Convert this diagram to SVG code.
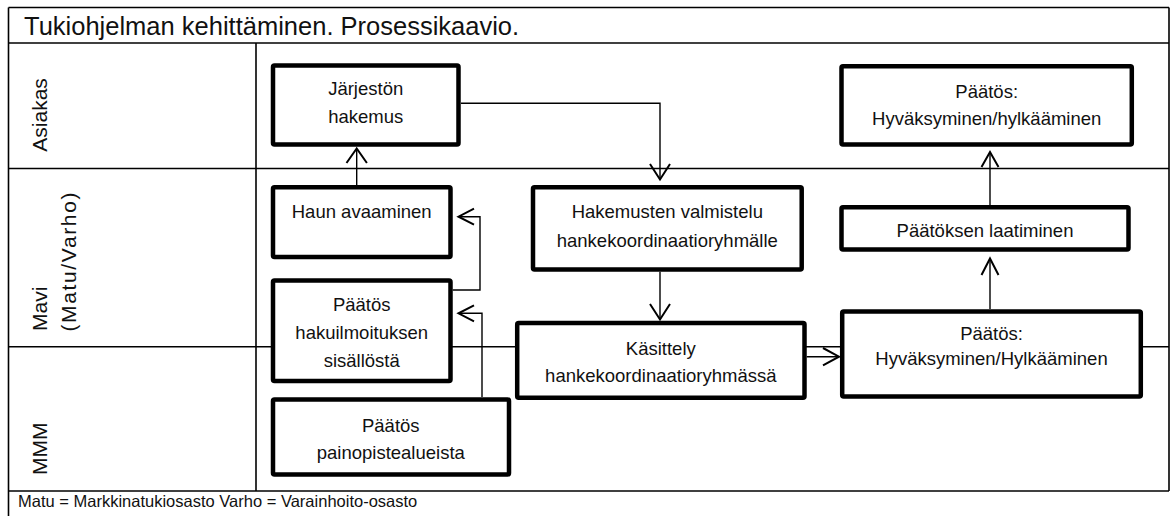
<svg xmlns="http://www.w3.org/2000/svg" width="1172" height="516" viewBox="0 0 1172 516">
  <style>
    .frame { fill: none; stroke: #000; stroke-width: 1.6; }
    .box rect { fill: #fff; stroke: #000; stroke-width: 4.5; }
    .box text { font-family: "Liberation Sans", Arial, sans-serif; font-size: 18.5px; fill: #111; text-anchor: middle; }
    .lane { font-family: "Liberation Sans", Arial, sans-serif; font-size: 21px; fill: #111; }
    .title { font-family: "Liberation Sans", Arial, sans-serif; font-size: 25.5px; fill: #111; }
    .note { font-family: "Liberation Sans", Arial, sans-serif; font-size: 16.5px; fill: #111; }
    .conn { fill: none; stroke: #000; stroke-width: 1.4; }
    .head { fill: none; stroke: #000; stroke-width: 2; stroke-linejoin: miter; }
  </style>

  <rect width="1172" height="516" fill="#fff"/>

  <!-- swimlane table -->
  <g id="lanes">
    <line class="frame" x1="8.5" y1="7.5" x2="1169" y2="7.5"/>
    <line class="frame" x1="8.5" y1="7.5" x2="8.5" y2="516"/>
    <line class="frame" x1="1169" y1="7.5" x2="1169" y2="491"/>
    <line class="frame" x1="8.5" y1="43" x2="1169" y2="43"/>
    <line class="frame" x1="8.5" y1="168.5" x2="1169" y2="168.5"/>
    <line class="frame" x1="8.5" y1="346.7" x2="1169" y2="346.7"/>
    <line class="frame" x1="8.5" y1="491" x2="1169" y2="491"/>
    <line class="frame" x1="256" y1="43" x2="256" y2="491"/>
    <text class="title" x="24" y="35">Tukiohjelman kehittäminen. Prosessikaavio.</text>
    <text class="lane" transform="translate(46.7,151.7) rotate(-90)">Asiakas</text>
    <text class="lane" transform="translate(46.7,331) rotate(-90)">Mavi</text>
    <text class="lane" transform="translate(75.5,331.5) rotate(-90)" textLength="139" lengthAdjust="spacing">(Matu/Varho)</text>
    <text class="lane" transform="translate(46.7,475) rotate(-90)">MMM</text>
    <text class="note" x="18" y="506.5">Matu = Markkinatukiosasto Varho = Varainhoito-osasto</text>
  </g>

  <!-- connectors -->
  <g id="connectors">
    <line class="conn" x1="356.7" y1="185" x2="356.7" y2="149"/>
    <polyline class="head" points="346.5,163 356.7,148.5 366.9,163"/>

    <polyline class="conn" points="461,103.3 660,103.3 660,179"/>
    <polyline class="head" points="650,164 660,179.5 670,164"/>

    <line class="conn" x1="660" y1="271.7" x2="660" y2="319"/>
    <polyline class="head" points="650,304 660,319.5 670,304"/>

    <polyline class="conn" points="452.7,290 480,290 480,216.7 459,216.7"/>
    <polyline class="head" points="474,208.7 458.5,216.7 474,224.7"/>

    <polyline class="conn" points="482,397 482,313.3 459,313.3"/>
    <polyline class="head" points="474,305.3 458.5,313.3 474,321.3"/>

    <line class="conn" x1="806.7" y1="356.7" x2="838.5" y2="356.7"/>
    <polyline class="head" points="823,348 839,356.7 823,365.4"/>

    <line class="conn" x1="990" y1="309" x2="990" y2="259"/>
    <polyline class="head" points="981.5,275 990,258.5 998.5,275"/>

    <line class="conn" x1="990" y1="205" x2="990" y2="152.5"/>
    <polyline class="head" points="981.5,167 990,152 998.5,167"/>
  </g>

  <!-- process steps -->
  <g id="jarjeston-hakemus" class="box">
    <rect x="273" y="65.5" width="185.5" height="79" rx="1.5"/>
    <text x="365.7" y="95">Järjestön</text>
    <text x="365.7" y="123">hakemus</text>
  </g>
  <g id="haun-avaaminen" class="box">
    <rect x="273" y="187.2" width="177.5" height="69.8" rx="1.5"/>
    <text x="361.7" y="218.3">Haun avaaminen</text>
  </g>
  <g id="paatos-hakuilmoitus" class="box">
    <rect x="273" y="280.5" width="177.5" height="100.6" rx="1.5"/>
    <text x="361.7" y="310.7">Päätös</text>
    <text x="361.7" y="339">hakuilmoituksen</text>
    <text x="361.7" y="367">sisällöstä</text>
  </g>
  <g id="paatos-painopisteet" class="box">
    <rect x="273" y="399.5" width="236" height="75" rx="1.5"/>
    <text x="390.8" y="432">Päätös</text>
    <text x="390.8" y="459">painopistealueista</text>
  </g>
  <g id="hakemusten-valmistelu" class="box">
    <rect x="533" y="187.2" width="268.7" height="82.2" rx="1.5"/>
    <text x="667.3" y="218.3">Hakemusten valmistelu</text>
    <text x="667.3" y="247.3">hankekoordinaatioryhmälle</text>
  </g>
  <g id="kasittely" class="box">
    <rect x="517.2" y="323" width="287.3" height="74.8" rx="1.5"/>
    <text x="660.8" y="355">Käsittely</text>
    <text x="660.8" y="381.7">hankekoordinaatioryhmässä</text>
  </g>
  <g id="paatos-asiakas" class="box">
    <rect x="841.5" y="66.2" width="290.3" height="78.2" rx="1.5"/>
    <text x="986.7" y="97.7">Päätös:</text>
    <text x="986.7" y="125">Hyväksyminen/hylkääminen</text>
  </g>
  <g id="paatoksen-laatiminen" class="box">
    <rect x="841.5" y="207.2" width="287" height="42.2" rx="1.5"/>
    <text x="985" y="237.3">Päätöksen laatiminen</text>
  </g>
  <g id="paatos-mavi" class="box">
    <rect x="842.2" y="311.5" width="298.6" height="85" rx="1.5"/>
    <text x="991.5" y="340">Päätös:</text>
    <text x="991.5" y="365">Hyväksyminen/Hylkääminen</text>
  </g>
</svg>
